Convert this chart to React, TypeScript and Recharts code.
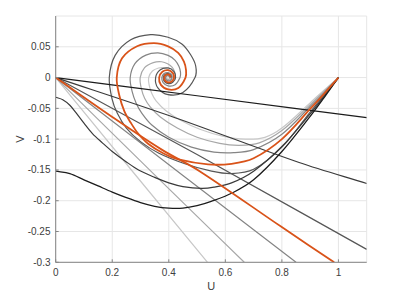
import { LineChart, Line, XAxis, YAxis, CartesianGrid } from "recharts";

const xTicks = [0, 0.2, 0.4, 0.6, 0.8, 1];
const yTicks = [-0.3, -0.25, -0.2, -0.15, -0.1, -0.05, 0, 0.05];

// trajectories leaving the origin, one per c value (dark -> light)
const originBlack = [[0, 0], [0.5, -0.0295], [1.1, -0.065]];
const originDark = [[0, 0], [0.403, -0.062], [0.861, -0.138], [1.1, -0.172]];
const originGray = [[0, 0], [0.5, -0.125], [1.1, -0.279]];
const originOrange = [[0, 0], [0.2, -0.064], [0.375, -0.117], [0.509, -0.152], [0.797, -0.242], [0.985, -0.3]];
const originMid = [[0, 0], [0.45, -0.159], [0.85, -0.3]];
const originLight = [[0, 0], [0.35, -0.158], [0.667, -0.3]];
const originLightest = [[0, 0], [0.28, -0.157], [0.537, -0.3]];

// trajectories into (1,0)
const saddleBlack = [
  [0, -0.152], [0.05, -0.156], [0.1, -0.166], [0.15, -0.176], [0.2, -0.186], [0.25, -0.195],
  [0.3, -0.203], [0.35, -0.209], [0.4, -0.212], [0.45, -0.212], [0.5, -0.208], [0.55, -0.201],
  [0.626, -0.187], [0.7, -0.166], [0.8, -0.12], [0.9, -0.063], [0.95, -0.032], [1, 0],
];
const saddleDark = [
  [0, -0.032], [0.025, -0.036], [0.05, -0.045], [0.075, -0.059], [0.1, -0.074], [0.13, -0.091],
  [0.165, -0.106], [0.2, -0.12], [0.25, -0.137], [0.293, -0.15], [0.35, -0.162], [0.4, -0.171],
  [0.45, -0.177], [0.516, -0.18], [0.56, -0.178], [0.622, -0.171], [0.7, -0.152], [0.8, -0.112],
  [0.9, -0.059], [0.95, -0.03], [1, 0],
];
const spiralGray = [
  [0.4088, 0], [0.4062, 0.0041], [0.3975, 0.0064], [0.3868, 0.005], [0.3806, 0], [0.3843, -0.0061],
  [0.3975, -0.0098], [0.414, -0.0076], [0.424, 0], [0.4184, 0.0097], [0.3975, 0.0156], [0.3701, 0.0127],
  [0.3534, 0], [0.3614, -0.0168], [0.3975, -0.0278], [0.4499, -0.0243], [0.4927, 0], [0.4952, 0.0188],
  [0.4773, 0.037], [0.4461, 0.0545], [0.3975, 0.0655], [0.3354, 0.0696], [0.2654, 0.0613], [0.2102, 0.036],
  [0.1895, 0],
  [0.199, -0.034], [0.218, -0.058], [0.25, -0.082], [0.3, -0.104], [0.365, -0.123], [0.457, -0.14],
  [0.551, -0.152], [0.622, -0.156], [0.7, -0.149], [0.8, -0.113], [0.9, -0.056], [0.95, -0.028], [1, 0],
];
const spiralOrange = [
  [0.4063, 0], [0.4045, 0.0032], [0.3975, 0.0051], [0.3888, 0.0041], [0.3838, 0], [0.3868, -0.005],
  [0.3975, -0.0079], [0.4107, -0.0061], [0.4183, 0], [0.414, 0.0076], [0.3975, 0.012], [0.3773, 0.0094],
  [0.3658, 0], [0.3721, -0.0118], [0.3975, -0.0193], [0.4337, -0.0168], [0.4592, 0], [0.461, 0.0122],
  [0.4536, 0.026], [0.4333, 0.0401], [0.3975, 0.0508], [0.3476, 0.056], [0.2878, 0.0509], [0.2346, 0.0313],
  [0.2159, 0],
  [0.2251, -0.0291], [0.243, -0.055], [0.265, -0.073], [0.29, -0.09], [0.328, -0.108], [0.38, -0.123],
  [0.434, -0.133], [0.539, -0.141], [0.622, -0.14], [0.7, -0.131], [0.8, -0.1], [0.9, -0.051], [0.95, -0.026], [1, 0],
];
const spiralMid = [
  [0.4031, 0], [0.402, 0.0021], [0.3975, 0.0033], [0.3918, 0.0027], [0.3883, 0], [0.3903, -0.0034],
  [0.3975, -0.0052], [0.4065, -0.0042], [0.4116, 0], [0.4087, 0.0052], [0.3975, 0.0082], [0.3835, 0.0065],
  [0.3753, 0], [0.3798, -0.0082], [0.3975, -0.0134], [0.4224, -0.0116], [0.4398, 0], [0.4415, 0.0085],
  [0.4361, 0.0179], [0.4225, 0.028], [0.3975, 0.036], [0.3617, 0.0401], [0.319, 0.0365], [0.2802, 0.0226],
  [0.2635, 0],
  [0.27, -0.022], [0.285, -0.042], [0.305, -0.058], [0.34, -0.077], [0.4, -0.097], [0.48, -0.113], [0.56, -0.121],
  [0.63, -0.122], [0.7, -0.117], [0.8, -0.092], [0.9, -0.047], [0.95, -0.024], [1, 0],
];
const spiralLight = [
  [0.3926, 0], [0.3935, -0.0019], [0.3975, -0.003], [0.4025, -0.0023], [0.4056, 0], [0.404, 0.003],
  [0.3975, 0.0048], [0.3893, 0.0038], [0.3845, 0], [0.387, -0.0049], [0.3975, -0.0079], [0.4115, -0.0065],
  [0.4215, 0], [0.4226, 0.0048], [0.4199, 0.0104], [0.4123, 0.0166], [0.3975, 0.0221], [0.3746, 0.0257],
  [0.3452, 0.0243], [0.3144, 0.016], [0.2988, 0],
  [0.303, -0.018], [0.315, -0.034], [0.335, -0.048], [0.37, -0.064], [0.43, -0.082], [0.5, -0.097], [0.58, -0.107],
  [0.65, -0.11], [0.72, -0.106], [0.8, -0.086], [0.9, -0.044], [0.95, -0.022], [1, 0],
];
const spiralLightest = [
  [0.4017, 0], [0.401, 0.0016], [0.3975, 0.0026], [0.393, 0.0021], [0.3901, 0], [0.3915, -0.0028],
  [0.3975, -0.0046], [0.4057, -0.0038], [0.4116, 0], [0.4125, 0.0029], [0.411, 0.0063], [0.4064, 0.01],
  [0.3975, 0.0134], [0.3833, 0.0159], [0.3638, 0.0156], [0.3421, 0.0107], [0.3287, 0],
  [0.331, -0.013], [0.34, -0.026], [0.355, -0.038], [0.39, -0.054], [0.44, -0.069], [0.51, -0.084], [0.59, -0.095],
  [0.67, -0.1], [0.74, -0.097], [0.8, -0.082], [0.9, -0.041], [0.95, -0.02], [1, 0],
];

const pts = (a: number[][]) => a.map(([u, v]) => ({ u, v }));

// smooth curve through the points, tangents scaled by chord length (handles uneven spacing)
const smooth = (ctx: any) => {
  let p: number[][] = [];
  return {
    areaStart() {},
    areaEnd() {},
    lineStart() { p = []; },
    point(x: number, y: number) { p.push([+x, +y]); },
    lineEnd() {
      if (!p.length) return;
      ctx.moveTo(p[0][0], p[0][1]);
      const d = (a: number[], b: number[]) => Math.hypot(b[0] - a[0], b[1] - a[1]) || 1e-6;
      for (let i = 0; i < p.length - 1; i++) {
        const p0 = p[i - 1] || p[i], p1 = p[i], p2 = p[i + 1], p3 = p[i + 2] || p[i + 1];
        const d01 = i > 0 ? d(p0, p1) : 0, d12 = d(p1, p2), d23 = i + 2 < p.length ? d(p2, p3) : 0;
        const k1 = d12 / 3 / (d01 + d12), k2 = d12 / 3 / (d12 + d23);
        ctx.bezierCurveTo(
          p1[0] + (p2[0] - p0[0]) * k1, p1[1] + (p2[1] - p0[1]) * k1,
          p2[0] - (p3[0] - p1[0]) * k2, p2[1] - (p3[1] - p1[1]) * k2,
          p2[0], p2[1],
        );
      }
    },
  };
};

const series = [
  { key: "l7", data: originLightest, color: "#c8c8c8", w: 1.2 },
  { key: "s7", data: spiralLightest, color: "#c8c8c8", w: 1.2 },
  { key: "l6", data: originLight, color: "#a8a8a8", w: 1.2 },
  { key: "s6", data: spiralLight, color: "#a8a8a8", w: 1.2 },
  { key: "l5", data: originMid, color: "#858585", w: 1.2 },
  { key: "s5", data: spiralMid, color: "#858585", w: 1.2 },
  { key: "l3", data: originGray, color: "#575757", w: 1.2 },
  { key: "s3", data: spiralGray, color: "#575757", w: 1.2 },
  { key: "l2", data: originDark, color: "#3a3a3a", w: 1.2 },
  { key: "s2", data: saddleDark, color: "#3a3a3a", w: 1.2 },
  { key: "l1", data: originBlack, color: "#1c1c1c", w: 1.2 },
  { key: "s1", data: saddleBlack, color: "#1c1c1c", w: 1.3 },
  { key: "l4", data: originOrange, color: "#d95319", w: 1.8 },
  { key: "s4", data: spiralOrange, color: "#d95319", w: 1.8 },
];

const font = "'Liberation Sans', Arial, sans-serif";
const tickStyle = { fill: "#404040", fontSize: 10, fontFamily: font };
const frame = "#858585";

export default function App() {
  return (
    <div style={{ position: "absolute", left: 0, top: 0, background: "#fff" }}>
      <LineChart width={401} height={297} margin={{ top: 16, right: 34.3, bottom: 4.7, left: 5.7 }}>
        <CartesianGrid stroke="#e6e6e6" />
        <XAxis
          type="number"
          dataKey="u"
          domain={[0, 1.1]}
          allowDataOverflow
          ticks={xTicks}
          interval={0}
          height={30}
          tick={tickStyle}
          tickSize={-3}
          tickMargin={10}
          stroke={frame}
          label={{ value: "U", position: "insideBottom", offset: 2, fill: "#404040", fontSize: 11, fontFamily: font }}
        />
        <XAxis
          xAxisId="top"
          orientation="top"
          type="number"
          dataKey="u"
          domain={[0, 1.1]}
          allowDataOverflow
          ticks={xTicks}
          interval={0}
          height={0}
          tick={false}
          tickSize={-3}
          stroke={frame}
        />
        <YAxis
          type="number"
          domain={[-0.3, 0.1]}
          allowDataOverflow
          ticks={yTicks}
          interval={0}
          width={50}
          tick={tickStyle}
          tickSize={-3}
          tickMargin={8.2}
          stroke={frame}
          label={{ value: "V", angle: -90, position: "insideLeft", offset: 14.3, fill: "#404040", fontSize: 11, fontFamily: font, style: { textAnchor: "middle" } }}
        />
        <YAxis
          yAxisId="right"
          orientation="right"
          type="number"
          domain={[-0.3, 0.1]}
          allowDataOverflow
          ticks={yTicks}
          interval={0}
          width={0}
          tick={false}
          tickSize={-3}
          stroke={frame}
        />
        {series.map((s) => (
          <Line
            key={s.key}
            data={pts(s.data)}
            dataKey="v"
            type={smooth as any}
            stroke={s.color}
            strokeWidth={s.w}
            dot={false}
            activeDot={false}
            isAnimationActive={false}
          />
        ))}
      </LineChart>
    </div>
  );
}
